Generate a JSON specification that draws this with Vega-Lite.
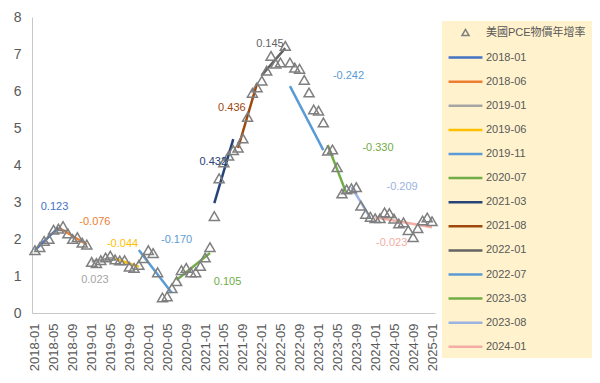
{
  "$schema": "https://vega.github.io/schema/vega-lite/v6.json",
  "width": 403,
  "height": 296,
  "autosize": {"type": "none"},
  "padding": {"left": 32, "top": 17, "right": 165, "bottom": 70},
  "background": "white",
  "config": {
    "view": {"stroke": null},
    "font": "Liberation Sans",
    "axis": {"grid": false, "ticks": false, "domainColor": "#C8C8C8", "domainWidth": 1, "labelColor": "#595959", "labelFont": "Liberation Sans"}
  },
  "datasets": {
    "pce": [
      {"month": "2018-01-01", "value": 1.70, "series": "美國PCE物價年增率"},
      {"month": "2018-02-01", "value": 1.78, "series": "美國PCE物價年增率"},
      {"month": "2018-03-01", "value": 1.95, "series": "美國PCE物價年增率"},
      {"month": "2018-04-01", "value": 2.00, "series": "美國PCE物價年增率"},
      {"month": "2018-05-01", "value": 2.25, "series": "美國PCE物價年增率"},
      {"month": "2018-06-01", "value": 2.28, "series": "美國PCE物價年增率"},
      {"month": "2018-07-01", "value": 2.35, "series": "美國PCE物價年增率"},
      {"month": "2018-08-01", "value": 2.15, "series": "美國PCE物價年增率"},
      {"month": "2018-09-01", "value": 2.00, "series": "美國PCE物價年增率"},
      {"month": "2018-10-01", "value": 2.05, "series": "美國PCE物價年增率"},
      {"month": "2018-11-01", "value": 1.90, "series": "美國PCE物價年增率"},
      {"month": "2018-12-01", "value": 1.85, "series": "美國PCE物價年增率"},
      {"month": "2019-01-01", "value": 1.38, "series": "美國PCE物價年增率"},
      {"month": "2019-02-01", "value": 1.35, "series": "美國PCE物價年增率"},
      {"month": "2019-03-01", "value": 1.43, "series": "美國PCE物價年增率"},
      {"month": "2019-04-01", "value": 1.50, "series": "美國PCE物價年增率"},
      {"month": "2019-05-01", "value": 1.55, "series": "美國PCE物價年增率"},
      {"month": "2019-06-01", "value": 1.45, "series": "美國PCE物價年增率"},
      {"month": "2019-07-01", "value": 1.42, "series": "美國PCE物價年增率"},
      {"month": "2019-08-01", "value": 1.43, "series": "美國PCE物價年增率"},
      {"month": "2019-09-01", "value": 1.25, "series": "美國PCE物價年增率"},
      {"month": "2019-10-01", "value": 1.22, "series": "美國PCE物價年增率"},
      {"month": "2019-11-01", "value": 1.30, "series": "美國PCE物價年增率"},
      {"month": "2019-12-01", "value": 1.48, "series": "美國PCE物價年增率"},
      {"month": "2020-01-01", "value": 1.70, "series": "美國PCE物價年增率"},
      {"month": "2020-02-01", "value": 1.62, "series": "美國PCE物價年增率"},
      {"month": "2020-03-01", "value": 1.10, "series": "美國PCE物價年增率"},
      {"month": "2020-04-01", "value": 0.42, "series": "美國PCE物價年增率"},
      {"month": "2020-05-01", "value": 0.45, "series": "美國PCE物價年增率"},
      {"month": "2020-06-01", "value": 0.67, "series": "美國PCE物價年增率"},
      {"month": "2020-07-01", "value": 0.86, "series": "美國PCE物價年增率"},
      {"month": "2020-08-01", "value": 1.16, "series": "美國PCE物價年增率"},
      {"month": "2020-09-01", "value": 1.22, "series": "美國PCE物價年增率"},
      {"month": "2020-10-01", "value": 1.10, "series": "美國PCE物價年增率"},
      {"month": "2020-11-01", "value": 1.10, "series": "美國PCE物價年增率"},
      {"month": "2020-12-01", "value": 1.27, "series": "美國PCE物價年增率"},
      {"month": "2021-01-01", "value": 1.50, "series": "美國PCE物價年增率"},
      {"month": "2021-02-01", "value": 1.78, "series": "美國PCE物價年增率"},
      {"month": "2021-03-01", "value": 2.62, "series": "美國PCE物價年增率"},
      {"month": "2021-04-01", "value": 3.64, "series": "美國PCE物價年增率"},
      {"month": "2021-05-01", "value": 4.07, "series": "美國PCE物價年增率"},
      {"month": "2021-06-01", "value": 4.25, "series": "美國PCE物價年增率"},
      {"month": "2021-07-01", "value": 4.40, "series": "美國PCE物價年增率"},
      {"month": "2021-08-01", "value": 4.47, "series": "美國PCE物價年增率"},
      {"month": "2021-09-01", "value": 4.72, "series": "美國PCE物價年增率"},
      {"month": "2021-10-01", "value": 5.30, "series": "美國PCE物價年增率"},
      {"month": "2021-11-01", "value": 5.95, "series": "美國PCE物價年增率"},
      {"month": "2021-12-01", "value": 6.10, "series": "美國PCE物價年增率"},
      {"month": "2022-01-01", "value": 6.28, "series": "美國PCE物價年增率"},
      {"month": "2022-02-01", "value": 6.55, "series": "美國PCE物價年增率"},
      {"month": "2022-03-01", "value": 6.95, "series": "美國PCE物價年增率"},
      {"month": "2022-04-01", "value": 6.74, "series": "美國PCE物價年增率"},
      {"month": "2022-05-01", "value": 6.77, "series": "美國PCE物價年增率"},
      {"month": "2022-06-01", "value": 7.22, "series": "美國PCE物價年增率"},
      {"month": "2022-07-01", "value": 6.77, "series": "美國PCE物價年增率"},
      {"month": "2022-08-01", "value": 6.63, "series": "美國PCE物價年增率"},
      {"month": "2022-09-01", "value": 6.60, "series": "美國PCE物價年增率"},
      {"month": "2022-10-01", "value": 6.30, "series": "美國PCE物價年增率"},
      {"month": "2022-11-01", "value": 5.96, "series": "美國PCE物價年增率"},
      {"month": "2022-12-01", "value": 5.50, "series": "美國PCE物價年增率"},
      {"month": "2023-01-01", "value": 5.47, "series": "美國PCE物價年增率"},
      {"month": "2023-02-01", "value": 5.15, "series": "美國PCE物價年增率"},
      {"month": "2023-03-01", "value": 4.39, "series": "美國PCE物價年增率"},
      {"month": "2023-04-01", "value": 4.42, "series": "美國PCE物價年增率"},
      {"month": "2023-05-01", "value": 3.94, "series": "美國PCE物價年增率"},
      {"month": "2023-06-01", "value": 3.23, "series": "美國PCE物價年增率"},
      {"month": "2023-07-01", "value": 3.34, "series": "美國PCE物價年增率"},
      {"month": "2023-08-01", "value": 3.37, "series": "美國PCE物價年增率"},
      {"month": "2023-09-01", "value": 3.40, "series": "美國PCE物價年增率"},
      {"month": "2023-10-01", "value": 2.90, "series": "美國PCE物價年增率"},
      {"month": "2023-11-01", "value": 2.68, "series": "美國PCE物價年增率"},
      {"month": "2023-12-01", "value": 2.60, "series": "美國PCE物價年增率"},
      {"month": "2024-01-01", "value": 2.56, "series": "美國PCE物價年增率"},
      {"month": "2024-02-01", "value": 2.56, "series": "美國PCE物價年增率"},
      {"month": "2024-03-01", "value": 2.72, "series": "美國PCE物價年增率"},
      {"month": "2024-04-01", "value": 2.70, "series": "美國PCE物價年增率"},
      {"month": "2024-05-01", "value": 2.55, "series": "美國PCE物價年增率"},
      {"month": "2024-06-01", "value": 2.42, "series": "美國PCE物價年增率"},
      {"month": "2024-07-01", "value": 2.45, "series": "美國PCE物價年增率"},
      {"month": "2024-08-01", "value": 2.24, "series": "美國PCE物價年增率"},
      {"month": "2024-09-01", "value": 2.05, "series": "美國PCE物價年增率"},
      {"month": "2024-10-01", "value": 2.29, "series": "美國PCE物價年增率"},
      {"month": "2024-11-01", "value": 2.50, "series": "美國PCE物價年增率"},
      {"month": "2024-12-01", "value": 2.58, "series": "美國PCE物價年增率"},
      {"month": "2025-01-01", "value": 2.48, "series": "美國PCE物價年增率"}
    ],
    "fits": [
      {"series": "2018-01", "month": "2018-01-01", "value": 1.70},
      {"series": "2018-01", "month": "2018-06-01", "value": 2.31},
      {"series": "2018-06", "month": "2018-06-01", "value": 2.31},
      {"series": "2018-06", "month": "2018-12-01", "value": 1.85},
      {"series": "2019-01", "month": "2019-01-01", "value": 1.39},
      {"series": "2019-01", "month": "2019-06-01", "value": 1.50},
      {"series": "2019-06", "month": "2019-06-01", "value": 1.47},
      {"series": "2019-06", "month": "2019-11-01", "value": 1.25},
      {"series": "2019-11", "month": "2019-11-01", "value": 1.70},
      {"series": "2019-11", "month": "2020-06-01", "value": 0.54},
      {"series": "2020-07", "month": "2020-07-01", "value": 0.89},
      {"series": "2020-07", "month": "2021-02-01", "value": 1.62},
      {"series": "2021-03", "month": "2021-03-01", "value": 2.97},
      {"series": "2021-03", "month": "2021-07-01", "value": 4.70},
      {"series": "2021-08", "month": "2021-08-01", "value": 4.46},
      {"series": "2021-08", "month": "2021-12-01", "value": 6.20},
      {"series": "2022-01", "month": "2022-01-01", "value": 6.43},
      {"series": "2022-01", "month": "2022-06-01", "value": 7.16},
      {"series": "2022-07", "month": "2022-07-01", "value": 6.13},
      {"series": "2022-07", "month": "2023-02-01", "value": 4.40},
      {"series": "2023-03", "month": "2023-03-01", "value": 4.54},
      {"series": "2023-03", "month": "2023-07-01", "value": 3.22},
      {"series": "2023-08", "month": "2023-08-01", "value": 3.41},
      {"series": "2023-08", "month": "2023-12-01", "value": 2.57},
      {"series": "2024-01", "month": "2024-01-01", "value": 2.59},
      {"series": "2024-01", "month": "2025-01-01", "value": 2.32}
    ],
    "labels": [
      {"series": "2018-01", "month": "2018-05-07", "value": 2.86, "text": "0.123"},
      {"series": "2018-06", "month": "2019-01-22", "value": 2.46, "text": "-0.076"},
      {"series": "2019-01", "month": "2019-01-22", "value": 0.89, "text": "0.023"},
      {"series": "2019-06", "month": "2019-07-19", "value": 1.86, "text": "-0.044"},
      {"series": "2019-11", "month": "2020-07-01", "value": 1.98, "text": "-0.170"},
      {"series": "2020-07", "month": "2021-05-25", "value": 0.84, "text": "0.105"},
      {"series": "2021-03", "month": "2021-02-22", "value": 4.07, "text": "0.432"},
      {"series": "2021-08", "month": "2021-06-22", "value": 5.53, "text": "0.436"},
      {"series": "2022-01", "month": "2022-02-22", "value": 7.28, "text": "0.145"},
      {"series": "2022-07", "month": "2023-07-13", "value": 6.41, "text": "-0.242"},
      {"series": "2023-03", "month": "2024-01-19", "value": 4.47, "text": "-0.330"},
      {"series": "2023-08", "month": "2024-06-22", "value": 3.40, "text": "-0.209"},
      {"series": "2024-01", "month": "2024-04-16", "value": 1.89, "text": "-0.023"}
    ]
  },
  "encoding": {
    "x": {
      "field": "month", "type": "temporal",
      "scale": {"type": "utc", "domain": [{"year": 2017, "month": 12, "date": 13, "utc": true}, {"year": 2025, "month": 1, "date": 20, "utc": true}]},
      "axis": {"title": null, "labelExpr": "utcFormat(datum.value, '%Y-%m')", "tickCount": {"interval": "month", "step": 4}, "labelAngle": -90, "labelFontSize": 13, "labelPadding": 10, "labelOverlap": false, "labelFlush": false}
    },
    "y": {
      "field": "value", "type": "quantitative",
      "scale": {"domain": [0, 8], "nice": false},
      "axis": {"title": null, "values": [0, 1, 2, 3, 4, 5, 6, 7, 8], "labelFontSize": 14, "labelPadding": 11}
    },
    "color": {
      "field": "series", "type": "nominal",
      "scale": {
        "domain": ["美國PCE物價年增率", "2018-01", "2018-06", "2019-01", "2019-06", "2019-11", "2020-07", "2021-03", "2021-08", "2022-01", "2022-07", "2023-03", "2023-08", "2024-01"],
        "range": ["#7F7F7F", "#4472C4", "#ED7D31", "#A5A5A5", "#FFC000", "#5B9BD5", "#70AD47", "#264478", "#9E480E", "#636363", "#5B9BD5", "#70AD47", "#9CB2E2", "#F5ADA3"]
      },
      "legend": {
        "title": null, "orient": "none", "legendX": 410, "legendY": 4, "padding": 6,
        "fillColor": "#FFF2CC", "labelFont": "Liberation Sans, Noto Sans CJK TC", "labelFontSize": 11, "labelColor": "#595959",
        "symbolOffset": 12, "labelOffset": 15, "rowPadding": 12.1, "labelLimit": 300,
        "symbolFillColor": "transparent",
        "encode": {
          "symbols": {
            "enter": {
              "fill": {"value": "transparent"}
            },
            "update": {
              "size": {"signal": "datum.value === '美國PCE物價年增率' ? 50 : 1150"},
              "fill": {"value": "transparent"},
              "fillOpacity": {"value": 0},
              "stroke": {"scale": "color", "field": "value"},
              "strokeWidth": {"signal": "datum.value === '美國PCE物價年增率' ? 1.5 : 2.5"}
            }
          }
        }
      }
    }
  },
  "layer": [
    {
      "data": {"name": "fits"},
      "mark": {"type": "line", "strokeWidth": 2.5},
      "encoding": {"detail": {"field": "series"}}
    },
    {
      "data": {"name": "pce"},
      "mark": {"type": "point", "filled": false, "strokeWidth": 1.5, "opacity": 1, "size": 100},
      "encoding": {
        "shape": {
          "field": "series", "type": "nominal",
          "scale": {
            "domain": ["美國PCE物價年增率", "2018-01", "2018-06", "2019-01", "2019-06", "2019-11", "2020-07", "2021-03", "2021-08", "2022-01", "2022-07", "2023-03", "2023-08", "2024-01"],
            "range": ["triangle-up", "stroke", "stroke", "stroke", "stroke", "stroke", "stroke", "stroke", "stroke", "stroke", "stroke", "stroke", "stroke", "stroke"]
          }
        }
      }
    },
    {
      "data": {"name": "labels"},
      "mark": {"type": "text", "fontSize": 11, "font": "Liberation Sans", "align": "center", "baseline": "middle"},
      "encoding": {"text": {"field": "text"}}
    }
  ]
}
